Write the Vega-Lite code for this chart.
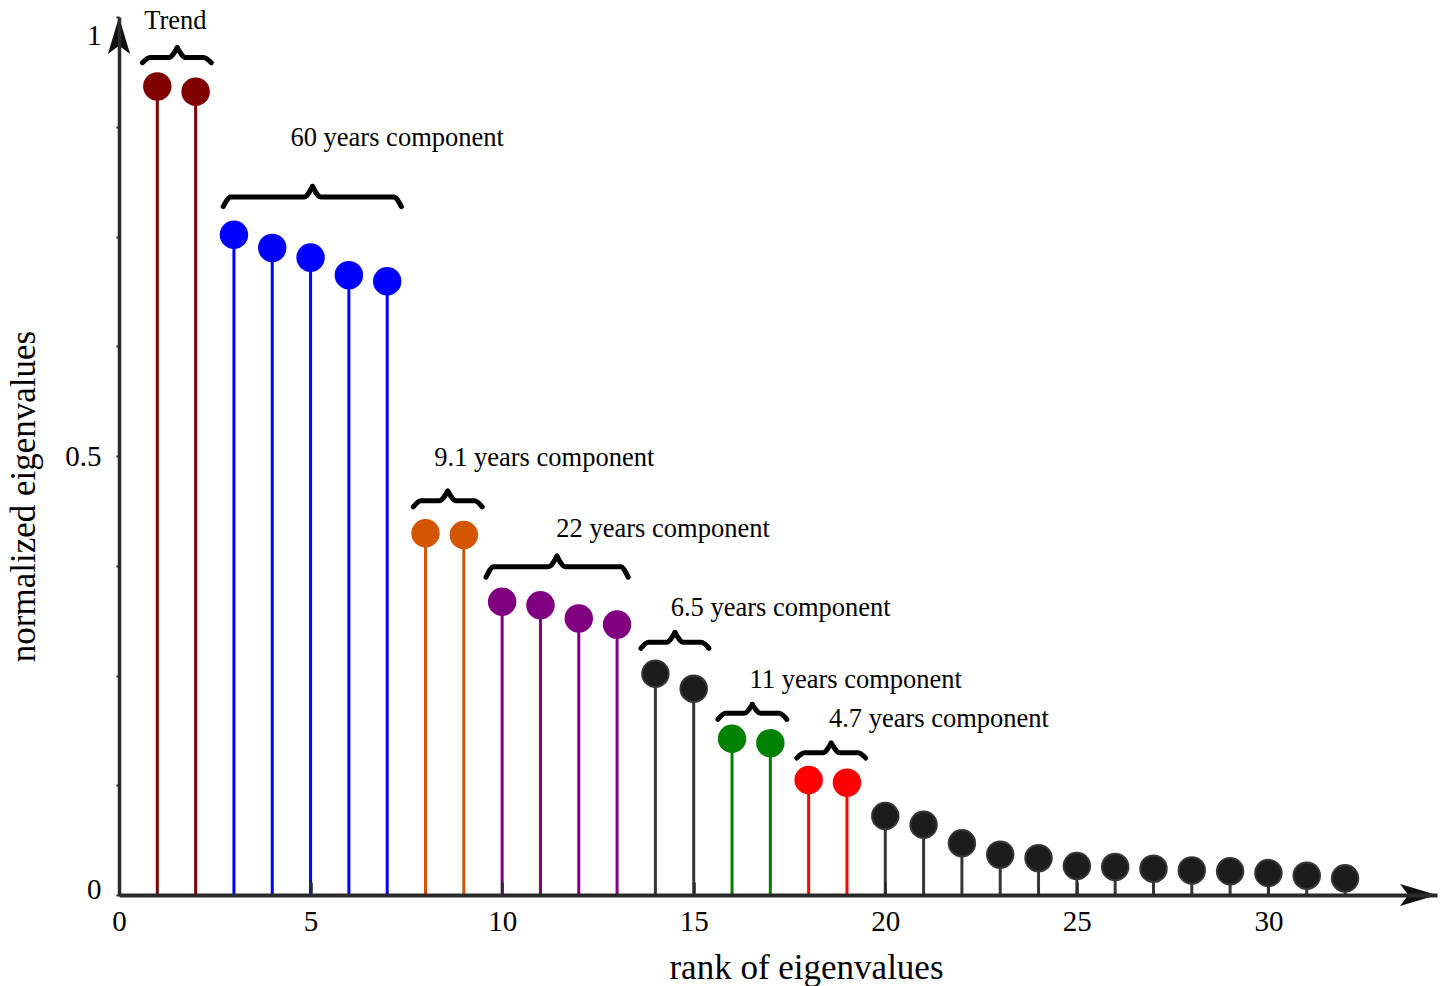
{
  "$schema": "https://vega.github.io/schema/vega-lite/v6.json",
  "width": 1318,
  "height": 878,
  "autosize": {"type": "none"},
  "padding": {"left": 119, "top": 17, "right": 8, "bottom": 91},
  "background": "white",
  "config": {"view": {"stroke": null}, "font": "Liberation Serif"},
  "datasets": {
    "eigen": [
      {"rank": 1, "value": 0.921, "group": "trend"},
      {"rank": 2, "value": 0.915, "group": "trend"},
      {"rank": 3, "value": 0.752, "group": "60y"},
      {"rank": 4, "value": 0.737, "group": "60y"},
      {"rank": 5, "value": 0.726, "group": "60y"},
      {"rank": 6, "value": 0.706, "group": "60y"},
      {"rank": 7, "value": 0.699, "group": "60y"},
      {"rank": 8, "value": 0.412, "group": "9.1y"},
      {"rank": 9, "value": 0.410, "group": "9.1y"},
      {"rank": 10, "value": 0.334, "group": "22y"},
      {"rank": 11, "value": 0.330, "group": "22y"},
      {"rank": 12, "value": 0.315, "group": "22y"},
      {"rank": 13, "value": 0.308, "group": "22y"},
      {"rank": 14, "value": 0.252, "group": "6.5y"},
      {"rank": 15, "value": 0.235, "group": "6.5y"},
      {"rank": 16, "value": 0.178, "group": "11y"},
      {"rank": 17, "value": 0.173, "group": "11y"},
      {"rank": 18, "value": 0.131, "group": "4.7y"},
      {"rank": 19, "value": 0.128, "group": "4.7y"},
      {"rank": 20, "value": 0.090, "group": "noise"},
      {"rank": 21, "value": 0.080, "group": "noise"},
      {"rank": 22, "value": 0.059, "group": "noise"},
      {"rank": 23, "value": 0.046, "group": "noise"},
      {"rank": 24, "value": 0.042, "group": "noise"},
      {"rank": 25, "value": 0.033, "group": "noise"},
      {"rank": 26, "value": 0.032, "group": "noise"},
      {"rank": 27, "value": 0.030, "group": "noise"},
      {"rank": 28, "value": 0.028, "group": "noise"},
      {"rank": 29, "value": 0.027, "group": "noise"},
      {"rank": 30, "value": 0.025, "group": "noise"},
      {"rank": 31, "value": 0.022, "group": "noise"},
      {"rank": 32, "value": 0.019, "group": "noise"}
    ],
    "labels": [
      {"x": 1.47, "y": 0.986, "text": "Trend"},
      {"x": 7.26, "y": 0.853, "text": "60 years component"},
      {"x": 11.10, "y": 0.489, "text": "9.1 years component"},
      {"x": 14.20, "y": 0.408, "text": "22 years component"},
      {"x": 17.27, "y": 0.318, "text": "6.5 years component"},
      {"x": 19.23, "y": 0.236, "text": "11 years component"},
      {"x": 21.40, "y": 0.191, "text": "4.7 years component"}
    ],
    "braces": [
      {"part": "trend-l", "x": 0.61, "y": 0.948},
      {"part": "trend-l", "x": 0.81, "y": 0.954},
      {"part": "trend-l", "x": 1.30, "y": 0.954},
      {"part": "trend-l", "x": 1.52, "y": 0.965},
      {"part": "trend-r", "x": 1.52, "y": 0.965},
      {"part": "trend-r", "x": 1.74, "y": 0.954},
      {"part": "trend-r", "x": 2.21, "y": 0.954},
      {"part": "trend-r", "x": 2.41, "y": 0.948},

      {"part": "60y-l", "x": 2.72, "y": 0.784},
      {"part": "60y-l", "x": 2.92, "y": 0.795},
      {"part": "60y-l", "x": 4.83, "y": 0.795},
      {"part": "60y-l", "x": 5.05, "y": 0.807},
      {"part": "60y-r", "x": 5.05, "y": 0.807},
      {"part": "60y-r", "x": 5.27, "y": 0.795},
      {"part": "60y-r", "x": 7.17, "y": 0.795},
      {"part": "60y-r", "x": 7.37, "y": 0.784},

      {"part": "9.1y-l", "x": 7.68, "y": 0.442},
      {"part": "9.1y-l", "x": 7.88, "y": 0.449},
      {"part": "9.1y-l", "x": 8.36, "y": 0.449},
      {"part": "9.1y-l", "x": 8.58, "y": 0.460},
      {"part": "9.1y-r", "x": 8.58, "y": 0.460},
      {"part": "9.1y-r", "x": 8.80, "y": 0.449},
      {"part": "9.1y-r", "x": 9.28, "y": 0.449},
      {"part": "9.1y-r", "x": 9.48, "y": 0.442},

      {"part": "22y-l", "x": 9.58, "y": 0.362},
      {"part": "22y-l", "x": 9.78, "y": 0.374},
      {"part": "22y-l", "x": 11.21, "y": 0.374},
      {"part": "22y-l", "x": 11.43, "y": 0.386},
      {"part": "22y-r", "x": 11.43, "y": 0.386},
      {"part": "22y-r", "x": 11.65, "y": 0.374},
      {"part": "22y-r", "x": 13.09, "y": 0.374},
      {"part": "22y-r", "x": 13.29, "y": 0.362},

      {"part": "6.5y-l", "x": 13.62, "y": 0.281},
      {"part": "6.5y-l", "x": 13.82, "y": 0.288},
      {"part": "6.5y-l", "x": 14.29, "y": 0.288},
      {"part": "6.5y-l", "x": 14.51, "y": 0.299},
      {"part": "6.5y-r", "x": 14.51, "y": 0.299},
      {"part": "6.5y-r", "x": 14.73, "y": 0.288},
      {"part": "6.5y-r", "x": 15.20, "y": 0.288},
      {"part": "6.5y-r", "x": 15.40, "y": 0.281},

      {"part": "11y-l", "x": 15.63, "y": 0.200},
      {"part": "11y-l", "x": 15.83, "y": 0.207},
      {"part": "11y-l", "x": 16.31, "y": 0.207},
      {"part": "11y-l", "x": 16.53, "y": 0.217},
      {"part": "11y-r", "x": 16.53, "y": 0.217},
      {"part": "11y-r", "x": 16.75, "y": 0.207},
      {"part": "11y-r", "x": 17.23, "y": 0.207},
      {"part": "11y-r", "x": 17.43, "y": 0.200},

      {"part": "4.7y-l", "x": 17.69, "y": 0.156},
      {"part": "4.7y-l", "x": 17.89, "y": 0.162},
      {"part": "4.7y-l", "x": 18.37, "y": 0.162},
      {"part": "4.7y-l", "x": 18.59, "y": 0.173},
      {"part": "4.7y-r", "x": 18.59, "y": 0.173},
      {"part": "4.7y-r", "x": 18.81, "y": 0.162},
      {"part": "4.7y-r", "x": 19.29, "y": 0.162},
      {"part": "4.7y-r", "x": 19.49, "y": 0.156}
    ],
    "arrows": [
      {"dir": "x", "x": 34.4, "y": 0},
      {"dir": "y", "x": 0, "y": 1}
    ]
  },
  "layer": [
    {
      "data": {"name": "eigen"},
      "mark": {"type": "rule", "strokeWidth": 3},
      "encoding": {
        "x": {
          "field": "rank",
          "type": "quantitative",
          "scale": {"domain": [0, 34.4], "nice": false, "zero": false},
          "axis": {
            "values": [0, 5, 10, 15, 20, 25, 30],
            "title": "rank of eigenvalues",
            "titleFont": "Liberation Serif",
            "titleFontSize": 35,
            "titleFontWeight": "normal",
            "titleColor": "#000000",
            "titleAlign": "center",
            "titleBaseline": "alphabetic",
            "titleX": 687,
            "titleY": 83,
            "labelFont": "Liberation Serif",
            "labelFontSize": 29,
            "labelColor": "#000000",
            "labelPadding": 25,
            "labelFlush": false,
            "labelOverlap": false,
            "tickSize": -13,
            "tickWidth": 2.5,
            "tickColor": "#2a2a2a",
            "domainColor": "#2a2a2a",
            "domainWidth": 4,
            "grid": false,
            "zindex": 1
          }
        },
        "y": {
          "field": "value",
          "type": "quantitative",
          "scale": {"domain": [0, 1], "nice": false},
          "axis": {
            "values": [0, 0.125, 0.25, 0.375, 0.5, 0.625, 0.75, 0.875, 1],
            "labelExpr": "datum.value == 0 ? '0' : datum.value == 0.5 ? '0.5' : datum.value == 1 ? '1' : ''",
            "title": "normalized eigenvalues",
            "titleFont": "Liberation Serif",
            "titleFontSize": 35,
            "titleFontWeight": "normal",
            "titleColor": "#000000",
            "titleAngle": -90,
            "titleAlign": "center",
            "titleBaseline": "alphabetic",
            "titleX": -85,
            "titleY": 479,
            "labelFont": "Liberation Serif",
            "labelFontSize": 29,
            "labelColor": "#000000",
            "labelPadding": 15,
            "labelFlush": false,
            "labelOverlap": false,
            "labelOffset": {
              "condition": [
                {"test": "datum.value == 1", "value": 18},
                {"test": "datum.value == 0", "value": -6}
              ],
              "value": 0
            },
            "tickSize": 3,
            "tickWidth": 2,
            "tickColor": "#2a2a2a",
            "domainColor": "#2a2a2a",
            "domainWidth": 3.5,
            "grid": false,
            "zindex": 1
          }
        },
        "y2": {"datum": 0},
        "stroke": {
          "field": "group",
          "type": "nominal",
          "scale": {
            "domain": ["trend", "60y", "9.1y", "22y", "6.5y", "11y", "4.7y", "noise"],
            "range": ["#800000", "#0000ff", "#d45500", "#800080", "#363636", "#008000", "#ff0000", "#363636"]
          },
          "legend": null
        }
      }
    },
    {
      "data": {"name": "eigen"},
      "mark": {"type": "point", "filled": true, "size": 700, "strokeWidth": 2, "opacity": 1},
      "encoding": {
        "x": {"field": "rank", "type": "quantitative"},
        "y": {"field": "value", "type": "quantitative"},
        "fill": {
          "field": "group",
          "type": "nominal",
          "scale": {
            "domain": ["trend", "60y", "9.1y", "22y", "6.5y", "11y", "4.7y", "noise"],
            "range": ["#800000", "#0000ff", "#d45500", "#800080", "#1c1c1c", "#008000", "#ff0000", "#1c1c1c"]
          },
          "legend": null
        },
        "stroke": {"field": "group", "type": "nominal", "legend": null}
      }
    },
    {
      "data": {"name": "braces"},
      "mark": {"type": "line", "interpolate": "monotone", "strokeWidth": 5, "color": "#000000", "strokeCap": "round"},
      "encoding": {
        "x": {"field": "x", "type": "quantitative"},
        "y": {"field": "y", "type": "quantitative"},
        "detail": {"field": "part", "type": "nominal"}
      }
    },
    {
      "data": {"name": "labels"},
      "mark": {"type": "text", "font": "Liberation Serif", "fontSize": 26.5, "align": "center", "baseline": "alphabetic", "color": "#000000"},
      "encoding": {
        "x": {"field": "x", "type": "quantitative"},
        "y": {"field": "y", "type": "quantitative"},
        "text": {"field": "text"}
      }
    },
    {
      "data": {"name": "arrows"},
      "mark": {"type": "point", "filled": true, "size": 1369, "color": "#111111", "opacity": 1},
      "encoding": {
        "x": {"field": "x", "type": "quantitative"},
        "y": {"field": "y", "type": "quantitative"},
        "shape": {
          "field": "dir",
          "type": "nominal",
          "scale": {
            "domain": ["x", "y"],
            "range": ["M0,0L-2,-0.6L-1.55,0L-2,0.6Z", "M0,0L-0.6,2L0,1.55L0.6,2Z"]
          },
          "legend": null
        }
      }
    }
  ]
}
